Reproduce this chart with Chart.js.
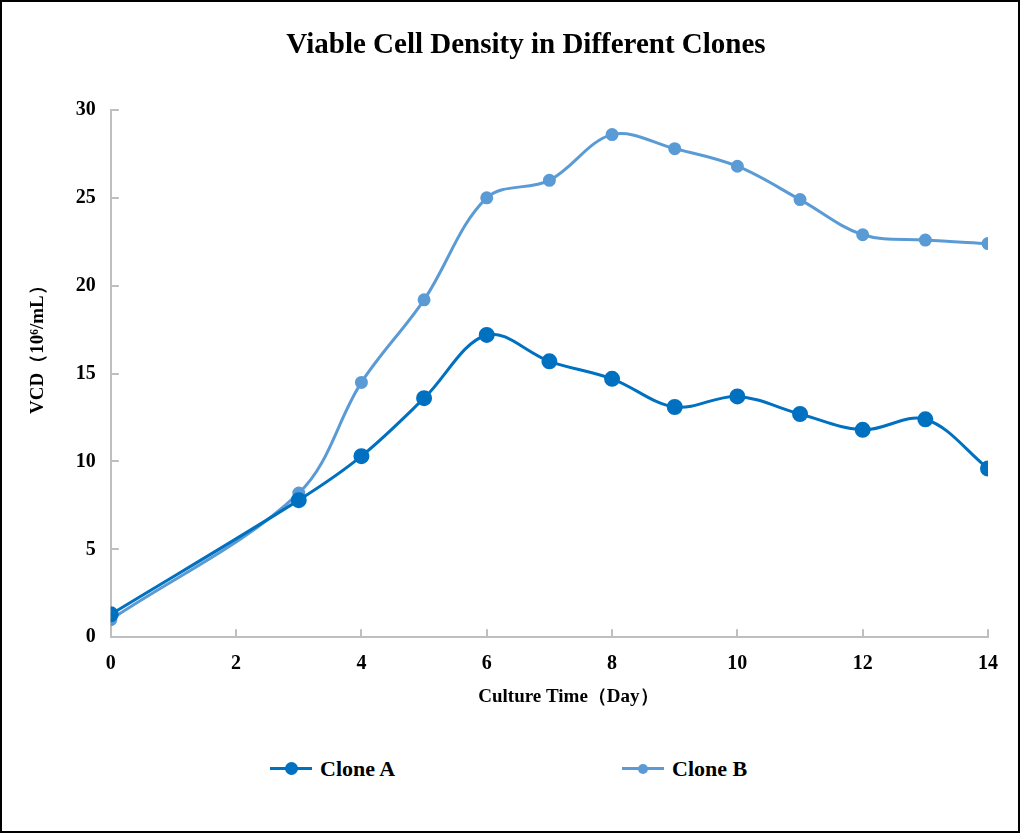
<!DOCTYPE html>
<html>
<head>
<meta charset="utf-8">
<script src="https://cdn.jsdelivr.net/npm/chart.js@4.4.1/dist/chart.umd.min.js"></script>
<style>
  html, body { margin: 0; padding: 0; background: #fff; }
  #frame {
    position: relative; width: 1016px; height: 829px;
    border: 2px solid #000; background: #fff; overflow: hidden;
  }
  #wrap { position: absolute; left: -2px; top: -2px; width: 1020px; height: 740px; }
  #titulo {
    position: absolute; left: 224px; top: 23px; width: 600px; height: 36px; line-height: 36px;
    text-align: center; font-family: "Liberation Serif", "Times New Roman", serif;
    font-weight: bold; font-size: 29px; color: #000;
  }
  #legend {
    position: absolute; top: 752px; left: 0; width: 1016px; height: 30px;
    font-family: "Liberation Serif", "Times New Roman", serif;
    font-weight: bold; font-size: 22px; color: #000;
  }
  .item { position: absolute; top: 0; display: flex; align-items: center; height: 30px; }
  .mark { position: relative; width: 42px; height: 14px; margin-right: 8px; }
  .mark .ln { position: absolute; left: 0; right: 0; top: 5px; height: 3px; }
  .mark .dot { position: absolute; border-radius: 50%; }
</style>
</head>
<body>
<div id="frame">
  <div id="wrap"><canvas id="myChart"></canvas></div>
  <div id="titulo">Viable Cell Density in Different Clones</div>
  <div id="legend"></div>
</div>
<script>
// datos
var dias = [0, 3, 4, 5, 6, 7, 8, 9, 10, 11, 12, 13, 14];
var cloneA = [1.3, 7.8, 10.3, 13.6, 17.2, 15.7, 14.7, 13.1, 13.7, 12.7, 11.8, 12.4, 9.6];
var cloneB = [1.0, 8.2, 14.5, 19.2, 25.0, 26.0, 28.6, 27.8, 26.8, 24.9, 22.9, 22.6, 22.4];
var ticksX = [0, 2, 4, 6, 8, 10, 12, 14];
var ticksY = [0, 5, 10, 15, 20, 25, 30];

var nombres = ['Clone A', 'Clone B'];
var colores = ['#0070C0', '#5B9BD5'];
var radios = [6.5, 5];

var fuente = '"Liberation Serif", "Times New Roman", serif';
var em = '\u2003'; // espacio para correr los titulos de eje como en excel

function puntos(valores) {
    return dias.map(function (d, i) { return { x: d, y: valores[i] }; });
}

// marcas de tick hacia adentro, como en excel
var ticksAdentro = {
    id: 'ticksAdentro',
    afterDatasetsDraw: function (chart) {
        var c = chart.ctx;
        var sx = chart.scales.x, sy = chart.scales.y;
        c.save();
        c.strokeStyle = '#BFBFBF';
        c.lineWidth = 2;
        c.beginPath();
        sx.ticks.forEach(function (t) {
            var px = Math.round(sx.getPixelForValue(t.value));
            c.moveTo(px, sy.bottom);
            c.lineTo(px, sy.bottom - 8);
        });
        sy.ticks.forEach(function (t) {
            var py = Math.round(sy.getPixelForValue(t.value));
            c.moveTo(sx.left, py);
            c.lineTo(sx.left + 8, py);
        });
        c.stroke();
        c.restore();
    }
};

var ctx = document.getElementById('myChart').getContext('2d');
var myChart = new Chart(ctx, {
    type: 'line',
    data: {
        datasets: [
            {
                label: nombres[0], data: puntos(cloneA),
                borderColor: colores[0], backgroundColor: colores[0],
                borderWidth: 3, pointRadius: radios[0], pointHoverRadius: radios[0],
                tension: 0.35
            },
            {
                label: nombres[1], data: puntos(cloneB),
                borderColor: colores[1], backgroundColor: colores[1],
                borderWidth: 3, pointRadius: radios[1], pointHoverRadius: radios[1],
                tension: 0.35
            }
        ]
    },
    options: {
        responsive: true,
        maintainAspectRatio: false,
        animation: false,
        layout: { padding: { left: 27, right: 32, top: 110, bottom: 32 } },
        plugins: {
            legend: { display: false },
            tooltip: { enabled: false },
            title: { display: false }
        },
        scales: {
            x: {
                type: 'linear', min: 0, max: 14,
                afterBuildTicks: function (s) { s.ticks = ticksX.map(function (v) { return { value: v }; }); },
                border: { color: '#BFBFBF', width: 2 },
                grid: { display: false },
                ticks: { color: '#000', padding: 7, font: { family: fuente, size: 20, weight: 'bold' } },
                title: {
                    display: true, text: em + em + 'Culture Time（Day）', color: '#000',
                    font: { family: fuente, size: 19, weight: 'bold' },
                    padding: { top: 2, bottom: 0 }
                }
            },
            y: {
                min: 0, max: 30,
                afterBuildTicks: function (s) { s.ticks = ticksY.map(function (v) { return { value: v }; }); },
                border: { color: '#BFBFBF', width: 2 },
                grid: { display: false },
                ticks: { color: '#000', padding: 7, font: { family: fuente, size: 20, weight: 'bold' } },
                title: {
                    display: true, text: em + em + em + 'VCD（10⁶/mL）', color: '#000',
                    font: { family: fuente, size: 19, weight: 'bold' },
                    padding: { top: 0, bottom: 19 }
                }
            }
        }
    },
    plugins: [ticksAdentro]
});

// leyenda abajo
var leyenda = document.getElementById('legend');
var posiciones = [268, 620];
nombres.forEach(function (n, i) {
    var item = document.createElement('div');
    item.className = 'item';
    item.style.left = posiciones[i] + 'px';
    var d = (radios[i] * 2);
    item.innerHTML = '<span class="mark"><span class="ln" style="background:' + colores[i] + '"></span>' +
        '<span class="dot" style="background:' + colores[i] + ';width:' + d + 'px;height:' + d + 'px;top:' + (6.5 - d / 2) + 'px;left:' + (21 - d / 2) + 'px"></span></span>' +
        '<span>' + n + '</span>';
    leyenda.appendChild(item);
});
</script>
</body>
</html>
